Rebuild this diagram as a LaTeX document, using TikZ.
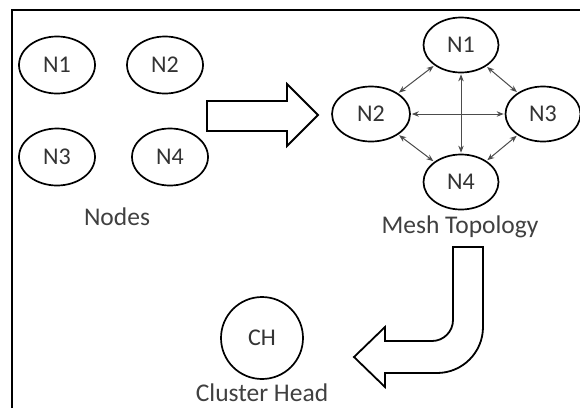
\documentclass[tikz,border=0pt]{standalone}
\usepackage{fontspec}
\setmainfont{Carlito}
\usetikzlibrary{shapes.geometric,arrows.meta}
\begin{document}
\begin{tikzpicture}[x=1pt,y=-1pt,
  nd/.style={ellipse,draw=black,line width=1.7pt,inner sep=0pt,
    minimum width=76pt,minimum height=57pt,text=black!80,
    font=\fontsize{24}{24}\selectfont},
  md/.style={nd,minimum width=75pt,minimum height=55pt},
  lbl/.style={text=black!75,font=\fontsize{25.5}{25.5}\selectfont,anchor=base,inner sep=0pt},
  link/.style={draw=black!70,line width=1pt,{Stealth[length=7pt,width=5.5pt]}-{Stealth[length=7pt,width=5.5pt]},shorten <=1pt,shorten >=1pt},
  blockarrow/.style={draw=black,line width=1.8pt,fill=white,line join=miter}]
\useasboundingbox (0,0) rectangle (580,408);
\fill[white] (0,0) rectangle (580,408);
% frame
\draw[line width=2.5pt] (12,408) -- (12,10) -- (580,10);
% separate nodes
\node[nd] (a1) at (57,65) {N1};
\node[nd] (a2) at (165,65) {N2};
\node[nd] (a3) at (57,157) {N3};
\node[nd] (a4) at (170,157) {N4};
\node[lbl] (lnodes) at (117,225) {Nodes};
% right block arrow
\draw[blockarrow] (207,101) -- (287,101) -- (287,84) -- (318,115) -- (287,146) -- (287,131) -- (207,131) -- cycle;
% mesh
\node[md] (m1) at (461,45) {N1};
\node[md,minimum width=78pt] (m2) at (371,114) {N2};
\node[md] (m3) at (543,114) {N3};
\node[md] (m4) at (461,182) {N4};
\node[lbl] (lmesh) at (460,233) {Mesh Topology};
\draw[link] (m1) -- (m2);
\draw[link] (m1) -- (m3);
\draw[link] (m2) -- (m4);
\draw[link] (m3) -- (m4);
\draw[link] (m1) -- (m4);
\draw[link] (m2) -- (m3);
% curved block arrow
\draw[blockarrow] (453,247) -- (483,247) -- (483,327)
  .. controls (483,352.4) and (462.4,373) .. (437,373)
  -- (385,373) -- (385,387) -- (354,357) -- (385,327) -- (385,341) -- (432,341)
  .. controls (443.6,341) and (453,331.6) .. (453,320) -- cycle;
% cluster head
\node[circle,draw=black,line width=1.7pt,minimum size=82pt,inner sep=0pt,
  text=black!80,font=\fontsize{24}{24}\selectfont] (ch) at (262,338) {CH};
\node[lbl] (lch) at (262,401) {Cluster Head};
\end{tikzpicture}
\end{document}
